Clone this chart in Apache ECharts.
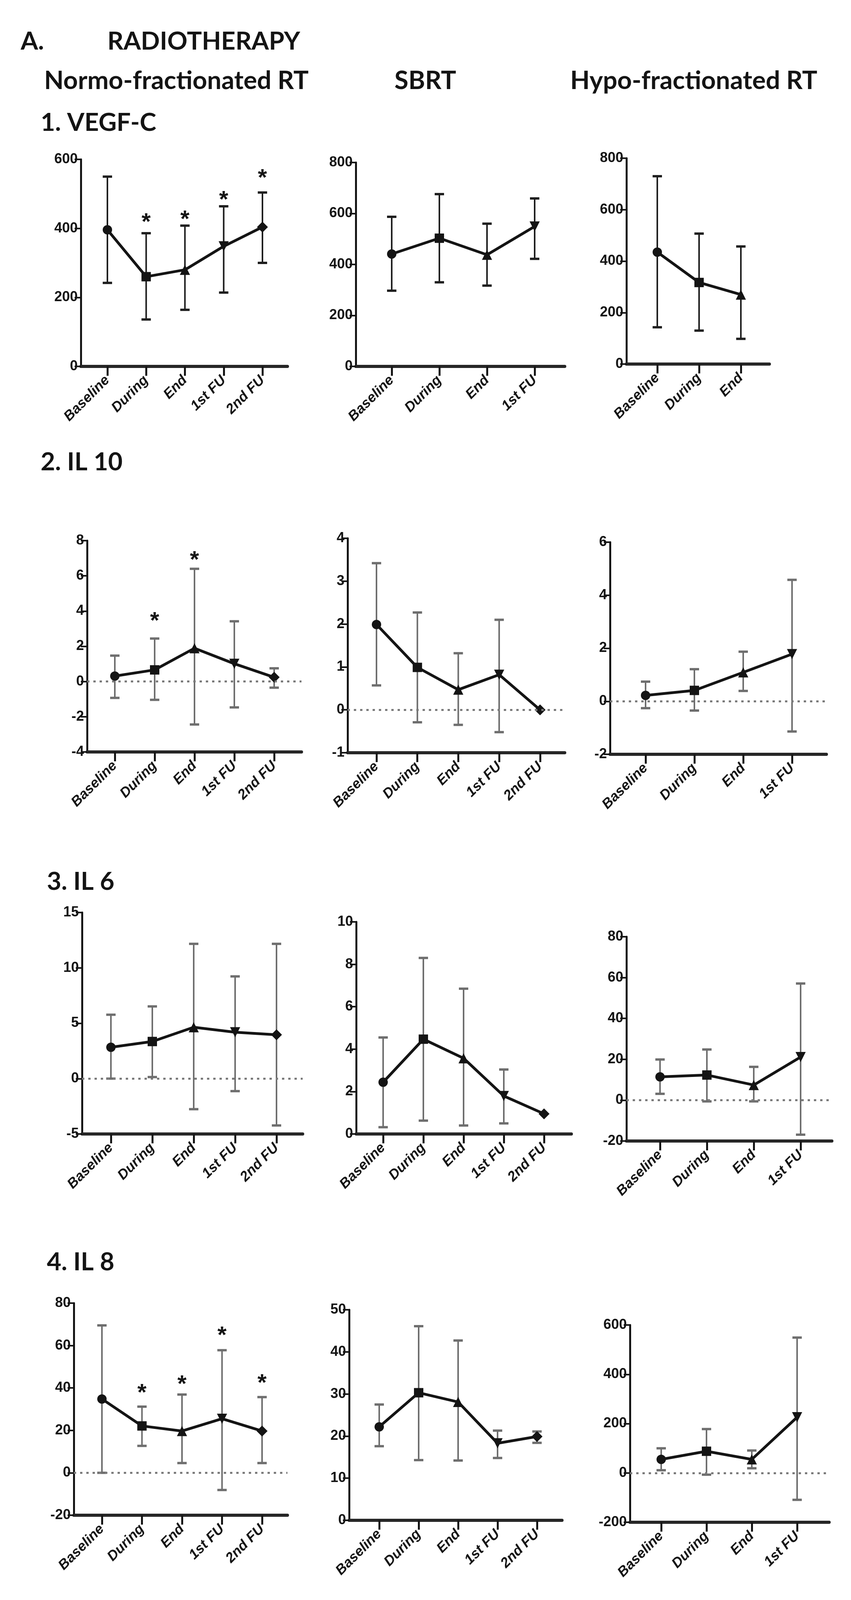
<!DOCTYPE html>
<html><head><meta charset="utf-8">
<script src="https://cdn.jsdelivr.net/npm/echarts@6/dist/echarts.min.js"></script>
<style>html,body{margin:0;padding:0;background:#fff}#c{width:2179px;height:4123px}</style>
</head><body><div id="c"></div>
<script>
// ---------- categories ----------
const CATS5 = ['Baseline', 'During', 'End', '1st FU', '2nd FU'];
const CATS4 = ['Baseline', 'During', 'End', '1st FU'];
const CATS3 = ['Baseline', 'During', 'End'];

// ---------- headings ----------
const MAIN_LETTER = 'A.';
const MAIN_TITLE = 'RADIOTHERAPY';
const COLUMN_TITLES = ['Normo-fractionated RT', 'SBRT', 'Hypo-fractionated RT'];
const ROW_TITLES = ['1. VEGF-C', '2. IL 10', '3. IL 6', '4. IL 8'];

// ---------- 1. VEGF-C ----------
const vegfNormoMean = [396, 260, 280, 348, 404];
const vegfNormoLow  = [242, 136, 164, 214, 300];
const vegfNormoHigh = [550, 386, 408, 464, 504];
const vegfNormoStar = [null, 432, 440, 496, 560];
const vegfNormoTicks = [0, 600, 200];

const vegfSbrtMean = [441, 503, 438, 549];
const vegfSbrtLow  = [297, 330, 317, 422];
const vegfSbrtHigh = [587, 676, 560, 659];
const vegfSbrtTicks = [0, 800, 200];

const vegfHypoMean = [435, 317, 270];
const vegfHypoLow  = [143, 130, 98];
const vegfHypoHigh = [730, 507, 457];
const vegfHypoTicks = [0, 800, 200];

// ---------- 2. IL 10 ----------
const il10NormoMean = [0.31, 0.66, 1.89, 1.01, 0.24];
const il10NormoLow  = [-0.93, -1.04, -2.44, -1.47, -0.35];
const il10NormoHigh = [1.47, 2.44, 6.4, 3.42, 0.75];
const il10NormoStar = [null, 3.7, 7.18, null, null];
const il10NormoTicks = [-4, 8, 2];

const il10SbrtMean = [1.99, 0.99, 0.47, 0.82, 0.0];
const il10SbrtLow  = [0.57, -0.29, -0.35, -0.52, null];
const il10SbrtHigh = [3.42, 2.27, 1.32, 2.1, null];
const il10SbrtTicks = [-1, 4, 1];

const il10HypoMean = [0.22, 0.41, 1.09, 1.78];
const il10HypoLow  = [-0.26, -0.35, 0.39, -1.14];
const il10HypoHigh = [0.74, 1.21, 1.87, 4.58];
const il10HypoTicks = [-2, 6, 2];

// ---------- 3. IL 6 ----------
const il6NormoMean = [2.83, 3.35, 4.64, 4.19, 3.96];
const il6NormoLow  = [0.0, 0.14, -2.76, -1.13, -4.23];
const il6NormoHigh = [5.77, 6.52, 12.17, 9.23, 12.17];
const il6NormoTicks = [-5, 15, 5];

const il6SbrtMean = [2.44, 4.47, 3.57, 1.79, 0.95];
const il6SbrtLow  = [0.32, 0.63, 0.4, 0.5, null];
const il6SbrtHigh = [4.55, 8.3, 6.85, 3.04, null];
const il6SbrtTicks = [0, 10, 2];

const il6HypoMean = [11.4, 12.3, 7.4, 21.1];
const il6HypoLow  = [3.1, -0.6, -0.6, -16.9];
const il6HypoHigh = [19.9, 24.8, 16.3, 57.1];
const il6HypoTicks = [-20, 80, 20];

// ---------- 4. IL 8 ----------
const il8NormoMean = [34.8, 22.1, 19.7, 25.5, 19.7];
const il8NormoLow  = [0, 12.7, 4.6, -8.1, 4.6];
const il8NormoHigh = [69.5, 31.2, 36.9, 57.8, 35.7];
const il8NormoStar = [null, 40, 44, 67, 44.5];
const il8NormoTicks = [-20, 80, 20];

const il8SbrtMean = [22.2, 30.3, 28.1, 18.3, 19.9];
const il8SbrtLow  = [17.6, 14.3, 14.2, 14.8, 18.4];
const il8SbrtHigh = [27.5, 46.1, 42.7, 21.3, 21.1];
const il8SbrtTicks = [0, 50, 10];

const il8HypoMean = [55, 88, 55, 226];
const il8HypoLow  = [11, -7, 19, -109];
const il8HypoHigh = [100, 178, 91, 549];
const il8HypoTicks = [-200, 600, 200];

// ---------- layout (pixel geometry only) ----------
// L: y-axis x, T: top, B: bottom, E: x-axis end, F: first category x, S: category spacing
const LAYOUT = [
  {L: 207, T: 408, B: 938, E: 736, F: 275, S: 99.25},
  {L: 911, T: 416, B: 938, E: 1446, F: 1003, S: 122},
  {L: 1604, T: 405, B: 932, E: 1970, F: 1683, S: 107},
  {L: 223, T: 1384, B: 1925, E: 772, F: 294, S: 102},
  {L: 890, T: 1378, B: 1927, E: 1446, F: 964, S: 104.7},
  {L: 1562, T: 1388, B: 1931, E: 2116, F: 1653, S: 125},
  {L: 210, T: 2336, B: 2903, E: 775, F: 284, S: 106},
  {L: 912, T: 2360, B: 2903, E: 1463, F: 981, S: 103},
  {L: 1604, T: 2398, B: 2921, E: 2130, F: 1690, S: 120},
  {L: 189, T: 3336, B: 3879, E: 736, F: 261, S: 102.5},
  {L: 894, T: 3353, B: 3892, E: 1439, F: 971, S: 101},
  {L: 1613, T: 3392, B: 3897, E: 2123, F: 1693, S: 116}
];

const PANELS = [
  {cats: CATS5, mean: vegfNormoMean, low: vegfNormoLow, high: vegfNormoHigh, star: vegfNormoStar, ticks: vegfNormoTicks},
  {cats: CATS4, mean: vegfSbrtMean, low: vegfSbrtLow, high: vegfSbrtHigh, ticks: vegfSbrtTicks},
  {cats: CATS3, mean: vegfHypoMean, low: vegfHypoLow, high: vegfHypoHigh, ticks: vegfHypoTicks},
  {cats: CATS5, mean: il10NormoMean, low: il10NormoLow, high: il10NormoHigh, star: il10NormoStar, ticks: il10NormoTicks},
  {cats: CATS5, mean: il10SbrtMean, low: il10SbrtLow, high: il10SbrtHigh, ticks: il10SbrtTicks},
  {cats: CATS4, mean: il10HypoMean, low: il10HypoLow, high: il10HypoHigh, ticks: il10HypoTicks},
  {cats: CATS5, mean: il6NormoMean, low: il6NormoLow, high: il6NormoHigh, ticks: il6NormoTicks},
  {cats: CATS5, mean: il6SbrtMean, low: il6SbrtLow, high: il6SbrtHigh, ticks: il6SbrtTicks},
  {cats: CATS4, mean: il6HypoMean, low: il6HypoLow, high: il6HypoHigh, ticks: il6HypoTicks},
  {cats: CATS5, mean: il8NormoMean, low: il8NormoLow, high: il8NormoHigh, star: il8NormoStar, ticks: il8NormoTicks},
  {cats: CATS5, mean: il8SbrtMean, low: il8SbrtLow, high: il8SbrtHigh, ticks: il8SbrtTicks},
  {cats: CATS4, mean: il8HypoMean, low: il8HypoLow, high: il8HypoHigh, ticks: il8HypoTicks}
];

const SYMBOLS = ['circle', 'rect', 'triangle', 'path://M0,0L20,0L10,18Z', 'diamond'];
const SYM_SIZES = [24, 24, 26, 26, 28];
const INK = '#141414';
const AXIS_FONT = 'Liberation Sans';
const HEAD_FONT = 'Lato';

const chart = echarts.init(document.getElementById('c'), null, {renderer: 'canvas'});

const grids = [], xAxes = [], yAxes = [], series = [];

PANELS.forEach((p, k) => {
  const g = LAYOUT[k];
  const idx = p.cats.map((_, i) => i);
  const row = Math.floor(k / 3);
  const barColor = row === 0 ? '#1e1e1e' : '#6e6e6e';
  grids.push({left: g.L, top: g.T, width: g.E - g.L, height: g.B - g.T, containLabel: false});
  xAxes.push({
    gridIndex: k, type: 'value',
    min: (g.L - g.F) / g.S, max: (g.E - g.F) / g.S,
    axisLine: {show: true, onZero: false, lineStyle: {color: '#262626', width: 8}},
    axisTick: {show: true, customValues: idx, length: 24, lineStyle: {color: INK, width: 5}},
    axisLabel: {
      show: true, customValues: idx,
      formatter: v => p.cats[Math.round(v)],
      rotate: 45, fontStyle: 'italic', fontWeight: 'bold', fontSize: 36,
      fontFamily: AXIS_FONT, color: INK, margin: 30
    },
    splitLine: {show: false}
  });
  yAxes.push({
    gridIndex: k, type: 'value',
    min: p.ticks[0], max: p.ticks[1], interval: p.ticks[2],
    axisLine: {show: true, onZero: false, lineStyle: {color: INK, width: 5}},
    axisTick: {show: true, length: 16, lineStyle: {color: INK, width: 4}},
    axisLabel: {fontSize: 36, fontWeight: 'bold', fontFamily: AXIS_FONT, color: INK, margin: 8},
    splitLine: {show: false}
  });

  // error bars
  const ebData = idx.filter(i => p.low[i] != null && p.high[i] != null).map(i => [i, p.low[i], p.high[i]]);
  series.push({
    type: 'custom', xAxisIndex: k, yAxisIndex: k, z: 2, silent: true,
    data: ebData,
    encode: {x: 0, y: [1, 2]},
    renderItem: (params, api) => {
      const x = api.value(0);
      const a = api.coord([x, api.value(1)]);
      const b = api.coord([x, api.value(2)]);
      const hw = 12;
      const st = {stroke: barColor, lineWidth: 4};
      const cst = {stroke: barColor, lineWidth: 6};
      return {type: 'group', children: [
        {type: 'line', shape: {x1: a[0], y1: a[1], x2: b[0], y2: b[1]}, style: st},
        {type: 'line', shape: {x1: a[0] - hw, y1: a[1], x2: a[0] + hw, y2: a[1]}, style: cst},
        {type: 'line', shape: {x1: b[0] - hw, y1: b[1], x2: b[0] + hw, y2: b[1]}, style: cst}
      ]};
    }
  });

  // mean line with markers
  const lineSeries = {
    type: 'line', xAxisIndex: k, yAxisIndex: k, z: 3,
    data: p.mean.map((m, i) => ({value: [i, m], symbol: SYMBOLS[i], symbolSize: SYM_SIZES[i]})),
    lineStyle: {color: INK, width: 7},
    itemStyle: {color: INK, borderWidth: 0},
    showSymbol: true
  };
  if (p.ticks[0] < 0) {
    lineSeries.markLine = {
      silent: true, symbol: ['none', 'none'], label: {show: false},
      lineStyle: {type: [6, 10], color: '#7a7a7a', width: 5},
      data: [{yAxis: 0}]
    };
  }
  series.push(lineSeries);

  // significance stars
  if (p.star) {
    const sd = idx.filter(i => p.star[i] != null).map(i => [i, p.star[i]]);
    series.push({
      type: 'custom', xAxisIndex: k, yAxisIndex: k, z: 4, silent: true,
      data: sd, encode: {x: 0, y: 1},
      renderItem: (params, api) => {
        const c = api.coord([api.value(0), api.value(1)]);
        return {type: 'text', x: c[0], y: c[1] + 14, style: {
          text: '*', fontSize: 60, fontWeight: 'bold', fontFamily: AXIS_FONT,
          fill: INK, align: 'center', verticalAlign: 'middle'
        }};
      }
    });
  }
});

function head(text, x, y, size) {
  return {type: 'text', x: x, y: y, style: {text: text, fontSize: size, fontWeight: 'bold', fontFamily: HEAD_FONT, fill: INK, verticalAlign: 'middle'}};
}
const graphics = [
  head(MAIN_LETTER, 53, 106, 64),
  head(MAIN_TITLE, 275, 106, 64),
  head(COLUMN_TITLES[0], 113, 207, 65),
  head(COLUMN_TITLES[1], 1010, 207, 65),
  head(COLUMN_TITLES[2], 1460, 207, 65),
  head(ROW_TITLES[0], 104, 314, 64),
  head(ROW_TITLES[1], 104, 1183, 64),
  head(ROW_TITLES[2], 120, 2257, 64),
  head(ROW_TITLES[3], 120, 3231, 64)
];

chart.setOption({
  backgroundColor: '#ffffff',
  animation: false,
  grid: grids,
  xAxis: xAxes,
  yAxis: yAxes,
  series: series,
  graphic: graphics
});
</script>
</body></html>
